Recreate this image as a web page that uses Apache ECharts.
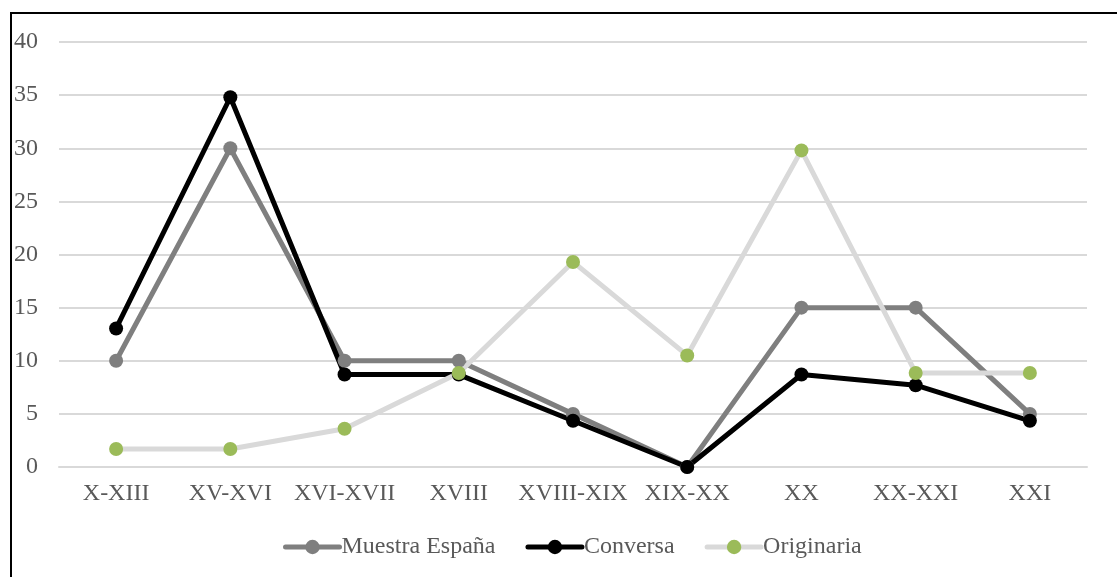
<!DOCTYPE html>
<html>
<head>
<meta charset="utf-8">
<script src="https://cdn.jsdelivr.net/npm/echarts@6/dist/echarts.min.js"></script>
<style>
html,body{margin:0;padding:0;background:#fff;}
#frame{position:absolute;left:10px;top:12px;width:1200px;height:700px;border-left:2px solid #000;border-top:2px solid #000;}
#chart{position:absolute;left:0;top:0;width:1117px;height:577px;}
</style>
</head>
<body>
<div id="frame"></div>
<div id="chart"></div>
<script>
var categories = ['X-XIII','XV-XVI','XVI-XVII','XVIII','XVIII-XIX','XIX-XX','XX','XX-XXI','XXI'];
var muestraEspana = [10, 30, 10, 10, 5, 0, 15, 15, 5];
var conversa = [13.04, 34.8, 8.7, 8.7, 4.35, 0, 8.7, 7.7, 4.35];
var originaria = [1.7, 1.7, 3.6, 8.85, 19.3, 10.5, 29.8, 8.85, 8.85];

var font = 'Liberation Serif';
var chart = echarts.init(document.getElementById('chart'), null, {renderer:'canvas'});
chart.setOption({
  animation:false,
  grid:{left:59, right:30, top:42, bottom:110, containLabel:false},
  legend:{
    top:530, left:278,
    itemWidth:54, itemHeight:18, itemGap:30,
    lineStyle:{width:5, cap:'round'},
    textStyle:{fontFamily:font, fontSize:24, color:'#595959', padding:[0,0,0,-3]},
    data:['Muestra España','Conversa','Originaria']
  },
  xAxis:{
    type:'category', data:categories, boundaryGap:true,
    axisLine:{show:true, lineStyle:{color:'#d9d9d9', width:2}},
    axisTick:{show:false},
    axisLabel:{fontFamily:font, fontSize:24, color:'#595959', margin:15, interval:0}
  },
  yAxis:{
    type:'value', min:0, max:40, interval:5,
    axisLine:{show:false}, axisTick:{show:false},
    axisLabel:{fontFamily:font, fontSize:24, color:'#595959', margin:21},
    splitLine:{lineStyle:{color:'#d9d9d9', width:2}}
  },
  series:[
    {name:'Muestra España', type:'line', data:muestraEspana, symbol:'circle', symbolSize:14,
     lineStyle:{color:'#7f7f7f', width:5}, itemStyle:{color:'#7f7f7f'}},
    {name:'Conversa', type:'line', data:conversa, symbol:'circle', symbolSize:14,
     lineStyle:{color:'#000000', width:5}, itemStyle:{color:'#000000'}},
    {name:'Originaria', type:'line', data:originaria, symbol:'circle', symbolSize:14,
     lineStyle:{color:'#d9d9d9', width:5}, itemStyle:{color:'#9bbb59'}}
  ]
});
</script>
</body>
</html>
